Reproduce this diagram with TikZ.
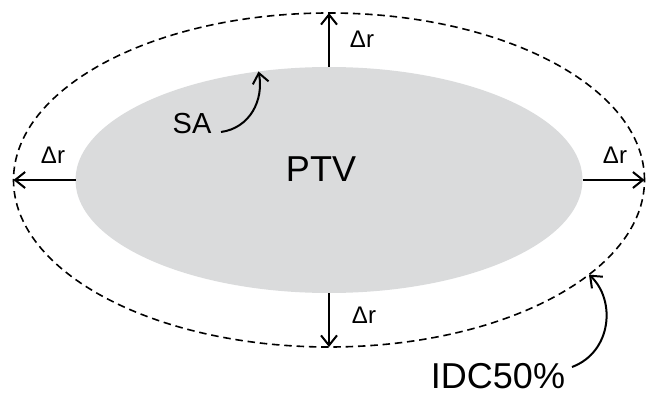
\documentclass[tikz,border=0pt]{standalone}
\usepackage{fontspec}
\setmainfont{Liberation Sans}
\usetikzlibrary{arrows.meta,shapes.geometric}
\definecolor{ptvgray}{RGB}{218,219,220}
\begin{document}
\begin{tikzpicture}[x=1pt,y=-1pt,
  arr/.style={line width=2pt,-{Straight Barb[length=10pt,width=16pt,line width=2pt]}},
  lbl/.style={inner sep=0pt,anchor=base,text=black},
  dr/.style={lbl,font=\fontsize{24}{24}\selectfont}]
\useasboundingbox (0,0) rectangle (646,396);
\node[ellipse,fill=ptvgray,draw=none,inner sep=0pt,outer sep=0pt,
  minimum width=507pt,minimum height=226pt] (ptv) at (329,180) {};
\node[ellipse,draw=black,dash pattern=on 7.5pt off 4.8pt,line width=1.6pt,inner sep=0pt,outer sep=0pt,
  minimum width=631pt,minimum height=334pt] (idc) at (329,180) {};
\node[lbl,font=\fontsize{36}{36}\selectfont] (ptvtext) at (321,181) {PTV};
\draw[arr] (ptv.north) -- (idc.north);
\draw[arr] (ptv.south) -- (idc.south);
\draw[arr] (ptv.west) -- (idc.west);
\draw[arr] (ptv.east) -- (idc.east);
\node[dr] (drt) at (362,48) {Δr};
\node[dr] (drl) at (53,163) {Δr};
\node[dr] (drr) at (615,163) {Δr};
\node[dr] (drb) at (364,323) {Δr};
\node[lbl,font=\fontsize{29}{29}\selectfont] (sa) at (192,133) {SA};
\draw[arr] (221,132) .. controls (250,128) and (264,100) .. (ptv.123.6);
\node[lbl,font=\fontsize{36}{36}\selectfont] (idctext) at (498,388) {IDC50\%};
\draw[arr] (572,367) .. controls (612,352) and (616,300) .. (idc.-20);
\end{tikzpicture}
\end{document}
